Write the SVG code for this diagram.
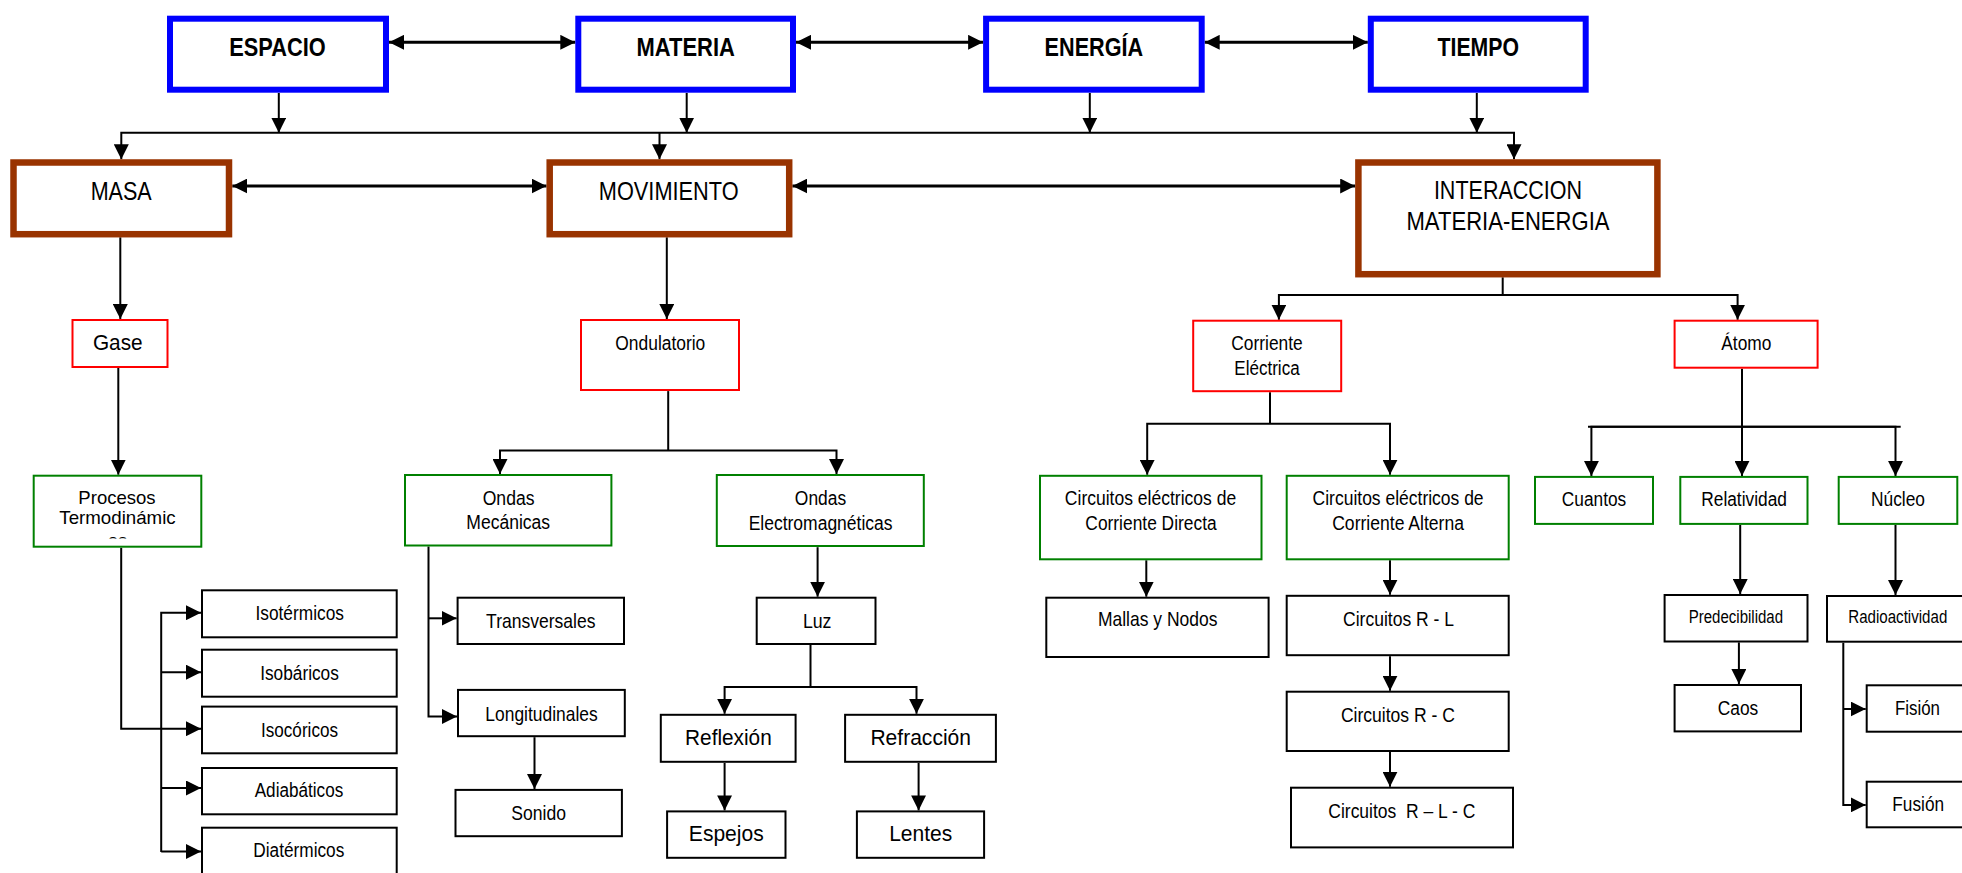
<svg xmlns="http://www.w3.org/2000/svg" width="1962" height="873" viewBox="0 0 1962 873">
<style>
.bl{fill:#fff;stroke:#0000ff;stroke-width:6}
.br{fill:#fff;stroke:#993300;stroke-width:6.5}
.rd{fill:#fff;stroke:#ff0000;stroke-width:2}
.gr{fill:#fff;stroke:#008000;stroke-width:2}
.bk{fill:#fff;stroke:#000;stroke-width:2}
text{font-family:"Liberation Sans",Arial,sans-serif;text-anchor:middle;fill:#000}
.t1{font-weight:bold;font-size:26.5px}
.t2{font-size:26.5px}
.t3{font-size:20px}
.t3b{font-size:21px}
.t4{font-size:18.5px}
.t5{font-size:17.5px}
.t6{font-size:21.5px}
.c{fill:none;stroke:#000;stroke-width:2}
.c3{fill:none;stroke:#000;stroke-width:3}
</style>
<defs>
<marker id="ah" markerUnits="userSpaceOnUse" markerWidth="15" markerHeight="15" refX="15" refY="7.5" orient="auto-start-reverse" viewBox="0 0 15 15"><path d="M0,0 L15,7.5 L0,15 z" fill="#000"/></marker>
<clipPath id="clipProc"><rect x="34" y="476" width="166" height="62.5"/></clipPath>
</defs>
<rect width="1962" height="873" fill="#fff"/>
<g id="connectors">
<path class="c3" d="M389,42.3 H575.3" marker-start="url(#ah)" marker-end="url(#ah)"/>
<path class="c3" d="M796,42.3 H983.1" marker-start="url(#ah)" marker-end="url(#ah)"/>
<path class="c3" d="M1204.7,42.3 H1367.8" marker-start="url(#ah)" marker-end="url(#ah)"/>
<path class="c" d="M278.8,93 V132.7" marker-end="url(#ah)"/>
<path class="c" d="M686.7,93 V132.7" marker-end="url(#ah)"/>
<path class="c" d="M1089.8,93 V132.7" marker-end="url(#ah)"/>
<path class="c" d="M1476.8,93 V132.7" marker-end="url(#ah)"/>
<path class="c" d="M121.3,159.3 V132.7 H1514 V159.3" marker-start="url(#ah)" marker-end="url(#ah)"/>
<path class="c" d="M659.5,132.7 V159.3" marker-end="url(#ah)"/>
<path class="c3" d="M232.3,186 H546.5" marker-start="url(#ah)" marker-end="url(#ah)"/>
<path class="c3" d="M792.4,186 H1355.2" marker-start="url(#ah)" marker-end="url(#ah)"/>
<path class="c" d="M120.3,237.3 V319" marker-end="url(#ah)"/>
<path class="c" d="M118.3,368 V474.7" marker-end="url(#ah)"/>
<path class="c" d="M121.2,547.7 V728.7 H201" marker-end="url(#ah)"/>
<path class="c" d="M161.2,852 V612.7 H201" marker-end="url(#ah)"/>
<path class="c" d="M161.2,672.2 H201" marker-end="url(#ah)"/>
<path class="c" d="M161.2,788 H201" marker-end="url(#ah)"/>
<path class="c" d="M161.2,851.5 H201" marker-end="url(#ah)"/>
<path class="c" d="M666.8,237.3 V319" marker-end="url(#ah)"/>
<path class="c" d="M668.2,391.1 V450.6"/>
<path class="c" d="M500,474 V450.6 H836.5 V474" marker-start="url(#ah)" marker-end="url(#ah)"/>
<path class="c" d="M428.5,546.5 V716.5 H457" marker-end="url(#ah)"/>
<path class="c" d="M428.5,618.3 H456.6" marker-end="url(#ah)"/>
<path class="c" d="M534.5,737.2 V789" marker-end="url(#ah)"/>
<path class="c" d="M817.6,547.2 V596.7" marker-end="url(#ah)"/>
<path class="c" d="M810.5,645 V687"/>
<path class="c" d="M724.6,713.8 V687 H916.5 V713.8" marker-start="url(#ah)" marker-end="url(#ah)"/>
<path class="c" d="M724.6,763 V810.4" marker-end="url(#ah)"/>
<path class="c" d="M918.6,763 V810.4" marker-end="url(#ah)"/>
<path class="c" d="M1502.7,277.3 V295"/>
<path class="c" d="M1278.9,319.7 V295 H1737.6 V319.7" marker-start="url(#ah)" marker-end="url(#ah)"/>
<path class="c" d="M1270,392.2 V423.8"/>
<path class="c" d="M1147.2,474.8 V423.8 H1390 V474.8" marker-start="url(#ah)" marker-end="url(#ah)"/>
<path class="c" d="M1146.3,560.3 V596.7" marker-end="url(#ah)"/>
<path class="c" d="M1390,560.3 V594.8" marker-end="url(#ah)"/>
<path class="c" d="M1390,656.2 V690.7" marker-end="url(#ah)"/>
<path class="c" d="M1390,752 V786.7" marker-end="url(#ah)"/>
<path class="c" d="M1742,368.8 V475.9" marker-end="url(#ah)"/>
<path class="c" d="M1588,426.8 H1900.7"/>
<path class="c" d="M1591.4,475.9 V426.8 H1895.5 V475.9" marker-start="url(#ah)" marker-end="url(#ah)"/>
<path class="c" d="M1740.2,525 V594" marker-end="url(#ah)"/>
<path class="c" d="M1738.9,642.4 V684" marker-end="url(#ah)"/>
<path class="c" d="M1895.5,525 V595" marker-end="url(#ah)"/>
<path class="c" d="M1843.3,642.7 V804.9 H1865.7" marker-end="url(#ah)"/>
<path class="c" d="M1843.3,709 H1865.7" marker-end="url(#ah)"/>
</g>
<g id="espacio"><rect class="bl" x="170" y="18.7" width="216" height="71"/><text class="t1" x="277.5" y="56" textLength="96.3" lengthAdjust="spacingAndGlyphs">ESPACIO</text></g>
<g id="materia"><rect class="bl" x="578.3" y="18.7" width="214.7" height="71"/><text class="t1" x="685.7" y="56" textLength="98.3" lengthAdjust="spacingAndGlyphs">MATERIA</text></g>
<g id="energia"><rect class="bl" x="986.1" y="18.7" width="215.6" height="71"/><text class="t1" x="1093.9" y="56" textLength="98.6" lengthAdjust="spacingAndGlyphs">ENERGÍA</text></g>
<g id="tiempo"><rect class="bl" x="1370.8" y="18.7" width="214.9" height="71"/><text class="t1" x="1478.3" y="56" textLength="81.5" lengthAdjust="spacingAndGlyphs">TIEMPO</text></g>
<g id="masa"><rect class="br" x="13.5" y="162.5" width="215.5" height="71.7"/><text class="t2" x="121.2" y="200" textLength="61" lengthAdjust="spacingAndGlyphs">MASA</text></g>
<g id="movimiento"><rect class="br" x="549.7" y="162.5" width="239.5" height="71.7"/><text class="t2" x="668.7" y="200" textLength="139.7" lengthAdjust="spacingAndGlyphs">MOVIMIENTO</text></g>
<g id="interaccion"><rect class="br" x="1358.4" y="162.5" width="299" height="111.7"/><text class="t2" x="1508" y="199" textLength="148.2" lengthAdjust="spacingAndGlyphs">INTERACCION</text><text class="t2" x="1508" y="230" textLength="203" lengthAdjust="spacingAndGlyphs">MATERIA-ENERGIA</text></g>
<g id="gase"><rect class="rd" x="72.5" y="320" width="95" height="47"/><text class="t6" x="117.8" y="349.5" textLength="49.7" lengthAdjust="spacingAndGlyphs">Gase</text></g>
<g id="ondulatorio"><rect class="rd" x="581" y="320" width="158" height="70"/><text class="t3" x="660.3" y="349.5" textLength="90" lengthAdjust="spacingAndGlyphs">Ondulatorio</text></g>
<g id="corriente"><rect class="rd" x="1193.2" y="320.7" width="148" height="70.5"/><text class="t3" x="1267" y="349.5" textLength="71.3" lengthAdjust="spacingAndGlyphs">Corriente</text><text class="t3" x="1267" y="374.8" textLength="65.3" lengthAdjust="spacingAndGlyphs">Eléctrica</text></g>
<g id="atomo"><rect class="rd" x="1674.6" y="320.7" width="143" height="47"/><text class="t3" x="1746.3" y="350.2" textLength="50" lengthAdjust="spacingAndGlyphs">Átomo</text></g>
<g id="procesos"><rect class="gr" x="33.7" y="475.7" width="167.6" height="71"/><text class="t4" x="117" y="504.3" textLength="77.3" lengthAdjust="spacingAndGlyphs">Procesos</text><text class="t4" x="117.5" y="524" textLength="116.4" lengthAdjust="spacingAndGlyphs">Termodinámic</text><text class="t4" x="117.5" y="546.5" clip-path="url(#clipProc)">os</text></g>
<g id="ondas-mecanicas"><rect class="gr" x="405" y="475" width="206.4" height="70.5"/><text class="t3" x="508.6" y="504.9" textLength="51.8" lengthAdjust="spacingAndGlyphs">Ondas</text><text class="t3" x="508.2" y="528.7" textLength="83.8" lengthAdjust="spacingAndGlyphs">Mecánicas</text></g>
<g id="ondas-em"><rect class="gr" x="716.8" y="475" width="207" height="71"/><text class="t3" x="820.5" y="504.9" textLength="51.3" lengthAdjust="spacingAndGlyphs">Ondas</text><text class="t3" x="820.6" y="529.8" textLength="143.9" lengthAdjust="spacingAndGlyphs">Electromagnéticas</text></g>
<g id="circuitos-dc"><rect class="gr" x="1040" y="475.8" width="221.5" height="83.5"/><text class="t3" x="1150.5" y="504.9" textLength="171.3" lengthAdjust="spacingAndGlyphs">Circuitos eléctricos de</text><text class="t3" x="1151" y="529.8" textLength="131.3" lengthAdjust="spacingAndGlyphs">Corriente Directa</text></g>
<g id="circuitos-ac"><rect class="gr" x="1286.7" y="475.8" width="222" height="83.5"/><text class="t3" x="1398.1" y="504.9" textLength="171" lengthAdjust="spacingAndGlyphs">Circuitos eléctricos de</text><text class="t3" x="1398.1" y="529.8" textLength="131.8" lengthAdjust="spacingAndGlyphs">Corriente Alterna</text></g>
<g id="cuantos"><rect class="gr" x="1535" y="476.9" width="118" height="47"/><text class="t3" x="1594" y="506" textLength="64.4" lengthAdjust="spacingAndGlyphs">Cuantos</text></g>
<g id="relatividad"><rect class="gr" x="1680.3" y="476.9" width="127.2" height="47"/><text class="t3" x="1744.1" y="506" textLength="85.7" lengthAdjust="spacingAndGlyphs">Relatividad</text></g>
<g id="nucleo"><rect class="gr" x="1838.7" y="476.9" width="118.6" height="47"/><text class="t3" x="1898" y="506" textLength="54" lengthAdjust="spacingAndGlyphs">Núcleo</text></g>
<g id="isotermicos"><rect class="bk" x="202" y="590.3" width="194.7" height="47"/><text class="t3" x="299.7" y="620" textLength="88.4" lengthAdjust="spacingAndGlyphs">Isotérmicos</text></g>
<g id="isobaricos"><rect class="bk" x="202" y="649.7" width="194.7" height="47"/><text class="t3" x="299.5" y="680.3" textLength="78.7" lengthAdjust="spacingAndGlyphs">Isobáricos</text></g>
<g id="isocoricos"><rect class="bk" x="202" y="706.6" width="194.7" height="46.7"/><text class="t3" x="299.5" y="737.2" textLength="77" lengthAdjust="spacingAndGlyphs">Isocóricos</text></g>
<g id="adiabaticos"><rect class="bk" x="202" y="768" width="194.7" height="46.3"/><text class="t3" x="299" y="796.7" textLength="88.6" lengthAdjust="spacingAndGlyphs">Adiabáticos</text></g>
<g id="diatermicos"><rect class="bk" x="202" y="827.7" width="194.7" height="60"/><text class="t3" x="298.8" y="857.3" textLength="91" lengthAdjust="spacingAndGlyphs">Diatérmicos</text></g>
<g id="transversales"><rect class="bk" x="457.6" y="597.7" width="166.4" height="46.3"/><text class="t3b" x="540.8" y="628.3" textLength="109.4" lengthAdjust="spacingAndGlyphs">Transversales</text></g>
<g id="longitudinales"><rect class="bk" x="458" y="689.9" width="166.8" height="46.3"/><text class="t3b" x="541.5" y="721.2" textLength="112.3" lengthAdjust="spacingAndGlyphs">Longitudinales</text></g>
<g id="sonido"><rect class="bk" x="455.5" y="789.9" width="166.4" height="46.3"/><text class="t3b" x="538.7" y="819.7" textLength="54.7" lengthAdjust="spacingAndGlyphs">Sonido</text></g>
<g id="luz"><rect class="bk" x="756.7" y="597.7" width="118.8" height="46.3"/><text class="t3b" x="817.2" y="628.3" textLength="28.6" lengthAdjust="spacingAndGlyphs">Luz</text></g>
<g id="reflexion"><rect class="bk" x="660.8" y="714.8" width="134.8" height="47"/><text class="t6" x="728.4" y="745.4" textLength="86.7" lengthAdjust="spacingAndGlyphs">Reflexión</text></g>
<g id="refraccion"><rect class="bk" x="845.1" y="714.8" width="150.8" height="47"/><text class="t6" x="920.7" y="745.4" textLength="100.6" lengthAdjust="spacingAndGlyphs">Refracción</text></g>
<g id="espejos"><rect class="bk" x="667.1" y="811.4" width="118.4" height="46.4"/><text class="t6" x="726.3" y="841" textLength="74.9" lengthAdjust="spacingAndGlyphs">Espejos</text></g>
<g id="lentes"><rect class="bk" x="856.9" y="811.4" width="127.2" height="46.4"/><text class="t6" x="920.7" y="841" textLength="63.1" lengthAdjust="spacingAndGlyphs">Lentes</text></g>
<g id="mallas"><rect class="bk" x="1046.3" y="597.7" width="222.3" height="59.3"/><text class="t3b" x="1157.7" y="626.4" textLength="119.5" lengthAdjust="spacingAndGlyphs">Mallas y Nodos</text></g>
<g id="rl"><rect class="bk" x="1286.7" y="595.8" width="222" height="59.4"/><text class="t3b" x="1398.5" y="626.4" textLength="111" lengthAdjust="spacingAndGlyphs">Circuitos R - L</text></g>
<g id="rc"><rect class="bk" x="1286.7" y="691.7" width="222" height="59.3"/><text class="t3b" x="1397.9" y="722.3" textLength="114" lengthAdjust="spacingAndGlyphs">Circuitos R - C</text></g>
<g id="rlc"><rect class="bk" x="1291" y="787.7" width="222" height="59.7"/><text class="t3b" x="1401.8" y="817.9" textLength="147" lengthAdjust="spacingAndGlyphs">Circuitos &#160;R – L - C</text></g>
<g id="predecibilidad"><rect class="bk" x="1664.6" y="595" width="142.9" height="46.5"/><text class="t5" x="1735.9" y="622.7" textLength="94.4" lengthAdjust="spacingAndGlyphs">Predecibilidad</text></g>
<g id="caos"><rect class="bk" x="1674.6" y="685" width="126.4" height="46.4"/><text class="t3" x="1738" y="714.9" textLength="40.5" lengthAdjust="spacingAndGlyphs">Caos</text></g>
<g id="radioactividad"><rect class="bk" x="1827" y="596" width="150" height="45.7"/><text class="t5" x="1897.8" y="622.7" textLength="99" lengthAdjust="spacingAndGlyphs">Radioactividad</text></g>
<g id="fision"><rect class="bk" x="1866.7" y="685.3" width="110" height="46.4"/><text class="t3" x="1917.5" y="715" textLength="45" lengthAdjust="spacingAndGlyphs">Fisión</text></g>
<g id="fusion"><rect class="bk" x="1866.7" y="781.7" width="110" height="45.6"/><text class="t3" x="1918.2" y="810.7" textLength="51.7" lengthAdjust="spacingAndGlyphs">Fusión</text></g>
</svg>
